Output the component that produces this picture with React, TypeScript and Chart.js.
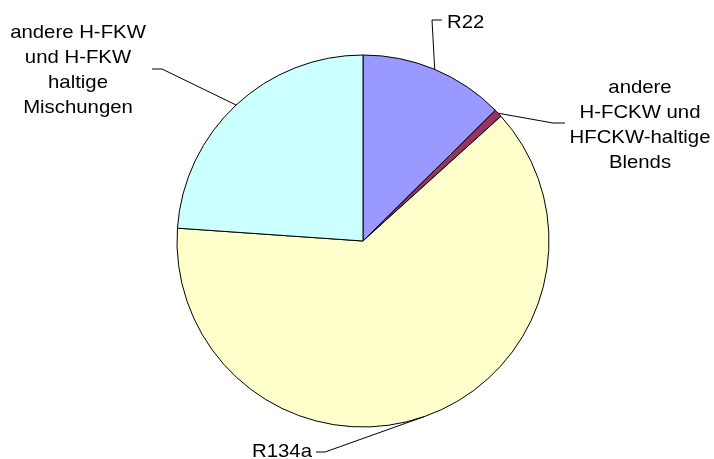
import React, { useEffect, useRef } from 'react';
import { Chart, registerables } from 'chart.js';

Chart.register(...registerables);

// ---- data ----
const categories = [
  'R22',
  'andere H-FCKW und HFCKW-haltige Blends',
  'R134a',
  'andere H-FKW und H-FKW haltige Mischungen',
];
const values = [12.6, 0.7, 62.8, 23.9];
const labelLines = [
  ['R22'],
  ['andere', 'H-FCKW und', 'HFCKW-haltige', 'Blends'],
  ['R134a'],
  ['andere H-FKW', 'und H-FKW', 'haltige', 'Mischungen'],
];
const colors = ['#9999FF', '#993366', '#FFFFCC', '#CCFFFF'];

// ---- label layout (canvas pixels) ----
type LabelLayout = {
  elbow: [number, number];
  end: [number, number];
  x: number;
  align: CanvasTextAlign;
  baselines: number[];
};
const labelLayout: LabelLayout[] = [
  { elbow: [432, 20], end: [442, 20], x: 447, align: 'left', baselines: [28] },
  { elbow: [553, 123], end: [565, 123], x: 640, align: 'center', baselines: [93, 118, 143, 168] },
  { elbow: [325, 452], end: [316, 452], x: 312, align: 'right', baselines: [457] },
  { elbow: [162, 69], end: [152, 69], x: 78, align: 'center', baselines: [38, 63, 88, 113] },
];

const leaderPlugin = {
  id: 'leaderLabels',
  afterDraw(chart: any) {
    const ctx: CanvasRenderingContext2D = chart.ctx;
    const meta = chart.getDatasetMeta(0);
    ctx.save();
    ctx.strokeStyle = '#000';
    ctx.lineWidth = 1;
    ctx.fillStyle = '#000';
    ctx.font = '18.5px "Liberation Sans", Arial, sans-serif';
    ctx.textBaseline = 'alphabetic';
    meta.data.forEach((arc: any, i: number) => {
      const p = arc.getProps(['x', 'y', 'startAngle', 'endAngle', 'outerRadius'], true);
      const mid = (p.startAngle + p.endAngle) / 2;
      const ax = p.x + Math.cos(mid) * p.outerRadius;
      const ay = p.y + Math.sin(mid) * p.outerRadius;
      const L = labelLayout[i];
      ctx.beginPath();
      ctx.moveTo(ax, ay);
      ctx.lineTo(L.elbow[0], L.elbow[1]);
      ctx.lineTo(L.end[0], L.end[1]);
      ctx.stroke();
      ctx.textAlign = L.align;
      labelLines[i].forEach((line, j) => {
        ctx.save();
        ctx.translate(L.x, L.baselines[j]);
        ctx.scale(1.1, 1);
        ctx.fillText(line, 0, 0);
        ctx.restore();
      });
    });
    ctx.restore();
  },
};

export default function App() {
  const ref = useRef<HTMLCanvasElement | null>(null);
  useEffect(() => {
    if (!ref.current) return;
    const chart = new Chart(ref.current, {
      type: 'pie',
      data: {
        labels: categories,
        datasets: [
          {
            data: values,
            backgroundColor: colors,
            borderColor: '#000',
            borderWidth: 1,
          },
        ],
      },
      options: {
        responsive: false,
        animation: false,
        radius: 186,
        layout: { padding: { left: 12, right: 0, top: 23, bottom: 0 } },
        plugins: {
          legend: { display: false },
          tooltip: { enabled: false },
        },
      } as any,
      plugins: [leaderPlugin],
    });
    return () => chart.destroy();
  }, []);
  return (
    <div style={{ position: 'absolute', left: 0, top: 0, width: 714, height: 459, background: '#fff' }}>
      <canvas ref={ref} width={714} height={459} />
    </div>
  );
}
